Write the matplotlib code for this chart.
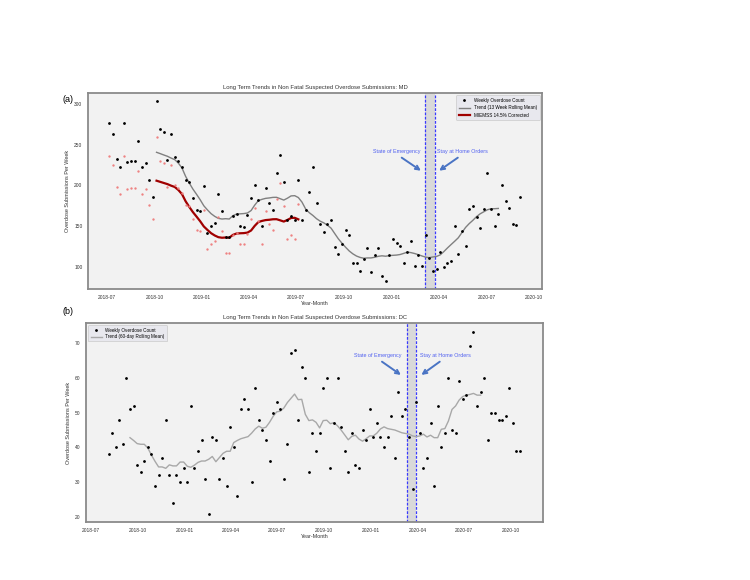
import matplotlib
matplotlib.use('Agg')
import matplotlib.pyplot as plt
import matplotlib.dates as mdates
import pandas as pd

plt.rcParams['font.family'] = ['Liberation Sans', 'DejaVu Sans']

# ---------------- MD data ----------------
md_start = '2018-07-06'
md_counts = [276, 263, 232, 222, 276, 229, 230, 230, 254, 222,
             228, 206, 186, 304, 269, 266, 231, 263, 235, 230,
             223, 206, 204, 185, 170, 168, 199, 142, 150, 154,
             189, 169, 137, 136, 162, 165, 150, 149, 164, 185,
             201, 182, 150, 197, 178, 170, 215, 237, 204, 157,
             162, 157, 207, 157, 170, 192, 223, 178, 153, 143,
             153, 157, 124, 116, 128, 145, 139, 105, 105, 95,
             110, 123, 94, 114, 123, 89, 83, 114, 134, 129,
             126, 105, 118, 131, 101, 115, 101, 139, 111, 95,
             97, 118, 100, 105, 107, 150, 116, 144, 125, 171,
             174, 161, 148, 171, 215, 171, 150, 165, 201, 181,
             172, 153, 151, 186]
md_corrected = [236.0, 224.9, 198.4, 189.8, 236.0, 195.8, 196.7, 196.7, 217.2, 189.8,
                194.9, 176.1, 159.0, 259.9, 230.0, 227.4, 197.5, 224.9, 200.9, 196.7,
                190.7, 176.1, 174.4, 158.2, 145.4, 143.6, 170.1, 121.4, 128.3, 131.7,
                161.6, 144.5, 117.1, 116.3, 138.5, 141.1, 128.3, 127.4, 140.2, 158.2,
                171.9, 155.6, 128.3, 168.4, 152.2, 145.4, 183.8, 202.6, 174.4, 134.2,
                138.5, 134.2, 177.0]
md_trend_offset = 13
md_trend = [240.6, 239.0, 237.3, 235.7, 233.5, 231.6, 227.3, 221.3, 211.0, 202.9,
            195.4, 189.0, 182.3, 174.9, 169.8, 165.2, 161.9, 159.4, 158.6, 159.0,
            158.6, 162.7, 164.7, 165.0, 165.3, 166.0, 169.0, 175.7, 181.2, 182.8,
            184.0, 184.5, 185.2, 185.3, 183.6, 181.9, 184.2, 187.0, 187.3, 185.0,
            179.4, 171.0, 166.4, 163.0, 159.0, 156.0, 153.9, 151.0, 147.4, 140.8,
            134.3, 128.9, 123.9, 119.3, 115.8, 113.1, 111.4, 110.4, 110.8, 110.8,
            111.6, 112.8, 113.4, 112.9, 113.6, 114.0, 114.3, 115.0, 116.4, 118.0,
            117.3, 116.2, 114.8, 113.2, 111.8, 111.1, 112.0, 112.6, 114.5, 118.5,
            123.0, 127.2, 131.3, 135.6, 142.0, 148.3, 153.0, 157.0, 161.5, 165.0,
            167.5, 170.0, 171.2, 171.3, 171.6]
md_corr_trend = [205.7, 204.3, 202.9, 201.5, 199.6, 198.0, 194.3, 189.2, 180.4, 173.5,
                 167.1, 161.6, 155.9, 149.5, 145.2, 141.2, 138.4, 136.3, 135.6, 135.9,
                 135.6, 139.1, 140.8, 141.1, 141.3, 141.9, 144.5, 150.2, 154.9, 156.3,
                 157.3, 157.7, 158.3, 158.4, 157.0, 155.5, 157.5, 159.9, 160.1, 158.2]
md_events = ['2020-03-05', '2020-03-24']

# ---------------- DC data ----------------
dc_start = '2018-08-05'
dc_counts = [38, 44, 40, 48, 41, 60, 51, 52, 35, 33,
             36, 40, 38, 29, 32, 37, 48, 32, 24, 32,
             30, 34, 30, 52, 34, 39, 42, 31, 21, 43,
             42, 31, 37, 29, 46, 40, 26, 51, 54, 51,
             30, 57, 48, 45, 42, 36, 50, 53, 51, 31,
             41, 67, 68, 48, 63, 60, 33, 44, 39, 44,
             57, 60, 34, 47, 60, 46, 39, 33, 44, 35,
             34, 45, 42, 51, 43, 47, 43, 40, 43, 49,
             37, 56, 49, 51, 43, 28, 53, 44, 34, 37,
             47, 29, 52, 40, 44, 60, 45, 44, 59, 54,
             55, 69, 73, 52, 56, 60, 42, 50, 50, 48,
             48, 49, 57, 47, 39, 39]
dc_trend_offset = 6
dc_trend = [42.8, 42.0, 41.1, 40.9, 40.9, 39.8, 37.8, 36.0, 34.4, 34.4,
            34.0, 35.0, 34.7, 34.7, 35.8, 35.8, 34.6, 34.3, 34.9, 35.7,
            36.1, 36.1, 36.6, 37.4, 35.9, 37.1, 38.3, 38.9, 38.9, 41.4,
            42.0, 42.5, 42.8, 43.1, 44.1, 45.3, 46.1, 45.5, 45.8, 47.2,
            48.9, 50.2, 50.4, 51.3, 52.9, 54.1, 55.3, 53.7, 53.8, 49.5,
            47.7, 47.9, 47.2, 45.6, 47.7, 47.8, 46.8, 47.1, 46.2, 45.0,
            43.6, 42.2, 43.2, 43.5, 42.4, 41.8, 42.5, 43.3, 43.3, 44.1,
            45.3, 45.9, 45.4, 45.2, 45.0, 44.6, 44.2, 44.0, 43.8, 43.3,
            43.1, 43.3, 43.8, 43.0, 43.5, 42.8, 42.8, 45.2, 45.4, 47.6,
            50.9, 51.9, 53.6, 54.6, 55.0, 55.2, 55.5, 55.0, 55.0]
dc_events = ['2020-03-10', '2020-03-28']

md_dates = pd.date_range(md_start, periods=len(md_counts), freq='7D')
dc_dates = pd.date_range(dc_start, periods=len(dc_counts), freq='7D')

BG = '#f2f2f2'
TXT_BLUE = '#5060f0'
ARROW_BLUE = '#4a74c4'
TXT = '#333333'

fig = plt.figure(figsize=(7.5, 5.8), dpi=100)
axA = fig.add_axes([0.1173, 0.5017, 0.6053, 0.338])
axB = fig.add_axes([0.1147, 0.1000, 0.6093, 0.3431])


def style(ax):
    ax.set_facecolor(BG)
    for s in ax.spines.values():
        s.set_color('#8a8a8a')
        s.set_linewidth(1.3)
    ax.tick_params(length=0, labelsize=3.5, pad=4, colors=TXT)
    ax.xaxis.set_major_locator(mdates.MonthLocator(bymonth=[1, 4, 7, 10]))
    ax.xaxis.set_major_formatter(mdates.DateFormatter('%Y-%m'))
    ax.set_xlabel('Year-Month', fontsize=3.9, labelpad=1, color=TXT)
    ax.set_ylabel('Overdose Submissions Per Week', fontsize=4.0, labelpad=3, color=TXT)


def events(ax, ev, t1, tail1, head1, t2, tail2, head2):
    d0, d1 = pd.Timestamp(ev[0]), pd.Timestamp(ev[1])
    ax.axvspan(d0, d1, color='#d9d9d9', alpha=1.0, zorder=0.5, lw=0)
    for d in (d0, d1):
        ax.axvline(d, color='#3a3aff', ls=(0, (2.2, 1.2)), lw=0.9, zorder=1)
    ax.text(pd.Timestamp(t1[0]), t1[1], 'State of Emergency', color=TXT_BLUE,
            fontsize=3.9, ha='center', va='center')
    ax.text(pd.Timestamp(t2[0]), t2[1], 'Stay at Home Orders', color=TXT_BLUE,
            fontsize=3.9, ha='center', va='center')
    for tail, head in ((tail1, head1), (tail2, head2)):
        ax.annotate('', xy=(pd.Timestamp(head[0]), head[1]),
                    xytext=(pd.Timestamp(tail[0]), tail[1]),
                    arrowprops=dict(arrowstyle='->', color=ARROW_BLUE, lw=1.4,
                                    mutation_scale=7, shrinkA=0, shrinkB=0))


# ---------------- Panel A ----------------
style(axA)
events(axA, md_events,
       ('2020-01-10', 242), ('2020-01-20', 234), ('2020-02-26', 218),
       ('2020-05-16', 242), ('2020-05-07', 234), ('2020-04-01', 218))
axA.plot(md_dates, md_counts, ls='none', marker='.', ms=2.0, color='black',
         label='Weekly Overdose Count', zorder=3)
axA.plot(md_dates[:len(md_corrected)], md_corrected, ls='none', marker='.', ms=1.4,
         color='#ee8080', zorder=3)
axA.plot(md_dates[md_trend_offset:md_trend_offset + len(md_trend)], md_trend,
         color='#808080', lw=1.0, label='Trend (13 Week Rolling Mean)', zorder=2)
axA.plot(md_dates[md_trend_offset:md_trend_offset + len(md_corr_trend)], md_corr_trend,
         color='#a00000', lw=1.6, label='MIEMSS 14.5% Corrected', zorder=2)
axA.set_xlim(pd.Timestamp('2018-05-26'), pd.Timestamp('2020-10-16'))
axA.set_ylim(72.6, 313.5)
axA.set_yticks([100, 150, 200, 250, 300])
axA.set_title('Long Term Trends in Non Fatal Suspected Overdose Submissions: MD',
              fontsize=4.2, pad=3, color=TXT)
legA = axA.legend(loc='upper right', fontsize=3.3, frameon=True, facecolor='#e8e8ee',
                  edgecolor='#d0d0d0', framealpha=1, borderpad=0.6, handlelength=2.4,
                  labelspacing=0.5, markerscale=1.0)
legA.get_frame().set_linewidth(0.6)

# ---------------- Panel B ----------------
style(axB)
events(axB, dc_events,
       ('2020-01-13', 66.3), ('2020-01-22', 64.6), ('2020-02-28', 60.8),
       ('2020-05-25', 66.3), ('2020-05-14', 64.6), ('2020-04-08', 60.8))
axB.plot(dc_dates, dc_counts, ls='none', marker='.', ms=2.0, color='black',
         label='Weekly Overdose Count', zorder=3)
axB.plot(dc_dates[dc_trend_offset:dc_trend_offset + len(dc_trend)], dc_trend,
         color='#a8a8a8', lw=1.0, label='Trend (60-day Rolling Mean)', zorder=2)
axB.set_xlim(pd.Timestamp('2018-06-22'), pd.Timestamp('2020-12-02'))
axB.set_ylim(18.6, 75.7)
axB.set_yticks([20, 30, 40, 50, 60, 70])
axB.set_title('Long Term Trends in Non Fatal Suspected Overdose Submissions: DC',
              fontsize=4.2, pad=3, color=TXT)
legB = axB.legend(loc='upper left', fontsize=3.3, frameon=True, facecolor='#e8e8ee',
                  edgecolor='#d0d0d0', framealpha=1, borderpad=0.5, handlelength=2.4,
                  labelspacing=0.35)
legB.get_frame().set_linewidth(0.6)

fig.text(0.083, 0.829, '(a)', fontsize=6.5, ha='left', va='center', color='black')
fig.text(0.083, 0.463, '(b)', fontsize=6.5, ha='left', va='center', color='black')

fig.savefig('out.png', dpi=100, facecolor='white')
